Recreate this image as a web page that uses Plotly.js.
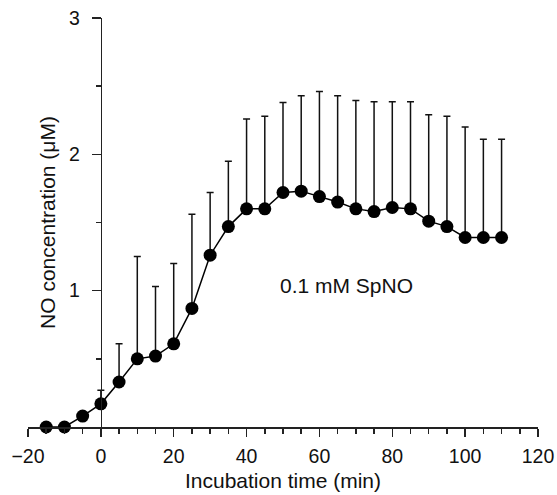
<!DOCTYPE html>
<html><head><meta charset="utf-8">
<script src="https://cdn.plot.ly/plotly-3.0.1.min.js"></script>
<style>html,body{margin:0;padding:0;background:#fff}#chart{width:557px;height:495px}</style>
</head><body><div id="chart"></div>
<script>
const times = [-15,-10,-5,0,5,10,15,20,25,30,35,40,45,50,55,60,65,70,75,80,85,90,95,100,105,110];
const noConc = [0.0,0.0,0.08,0.17,0.33,0.5,0.52,0.61,0.87,1.26,1.47,1.6,1.6,1.72,1.73,1.69,1.65,1.6,1.58,1.61,1.6,1.51,1.47,1.39,1.39,1.39];
const errTop = [0.0,0.0,0.0,0.27,0.61,1.25,1.03,1.2,1.56,1.72,1.95,2.26,2.28,2.38,2.43,2.46,2.43,2.395,2.385,2.385,2.385,2.29,2.28,2.2,2.11,2.11];
const errUp = errTop.map((t,i)=>Math.max(0, t - noConc[i]));
const xTicks = [-20,0,20,40,60,80,100,120];
const yTicks = [1,2,3];
const yMinor = [0.5,1.5,2.5];
const label = "0.1 mM SpNO";

const fam = "Liberation Sans, Arial, Helvetica, sans-serif";
const tickFont = {family: fam, size: 19.5, color: "#111"};
const titleFont = {family: fam, size: 21, color: "#111"};
const trace = {
  x: times, y: noConc, type: "scatter", mode: "lines+markers",
  line: {color: "#000", width: 1.5},
  marker: {color: "#000", size: 13},
  error_y: {type: "data", symmetric: false, array: errUp, arrayminus: times.map(()=>0), color: "#111", thickness: 1.5, width: 3.5},
  cliponaxis: false, showlegend: false
};
const layout = {
  width: 557, height: 495,
  margin: {l: 28, r: 19, t: 18, b: 68},
  paper_bgcolor: "#fff", plot_bgcolor: "#fff",
  font: tickFont,
  xaxis: {
    range: [-20, 120], tickmode: "array", tickvals: xTicks,
    showgrid: false, zeroline: false, showline: true, linecolor: "#222", linewidth: 1.5,
    ticks: "outside", ticklen: 8, tickwidth: 1.5, tickcolor: "#222",
    minor: {dtick: 5, tick0: 0, ticks: "outside", ticklen: 5, tickwidth: 1.5, tickcolor: "#222", showgrid: false},
    tickfont: tickFont, ticklabelstandoff: 3,
    title: {text: "Incubation time (min)", font: titleFont, standoff: 7}
  },
  yaxis: {
    range: [0, 3], tickmode: "array", tickvals: yTicks,
    anchor: "free", position: 20/140,
    showgrid: false, zeroline: false, showline: true, linecolor: "#222", linewidth: 1.5,
    ticks: "outside", ticklen: 9, tickwidth: 1.5, tickcolor: "#222",
    minor: {tickmode: "array", tickvals: yMinor, ticks: "outside", ticklen: 5, tickwidth: 1.5, tickcolor: "#222", showgrid: false},
    tickfont: tickFont, ticklabelstandoff: 8,
    title: {text: "NO concentration (μM)", font: titleFont, standoff: 6}
  },
  annotations: [{x: 67.3, y: 1.04, xref: "x", yref: "y", text: label, showarrow: false, font: titleFont}]
};
Plotly.newPlot("chart", [trace], layout, {staticPlot: true, displayModeBar: false});
</script></body></html>
